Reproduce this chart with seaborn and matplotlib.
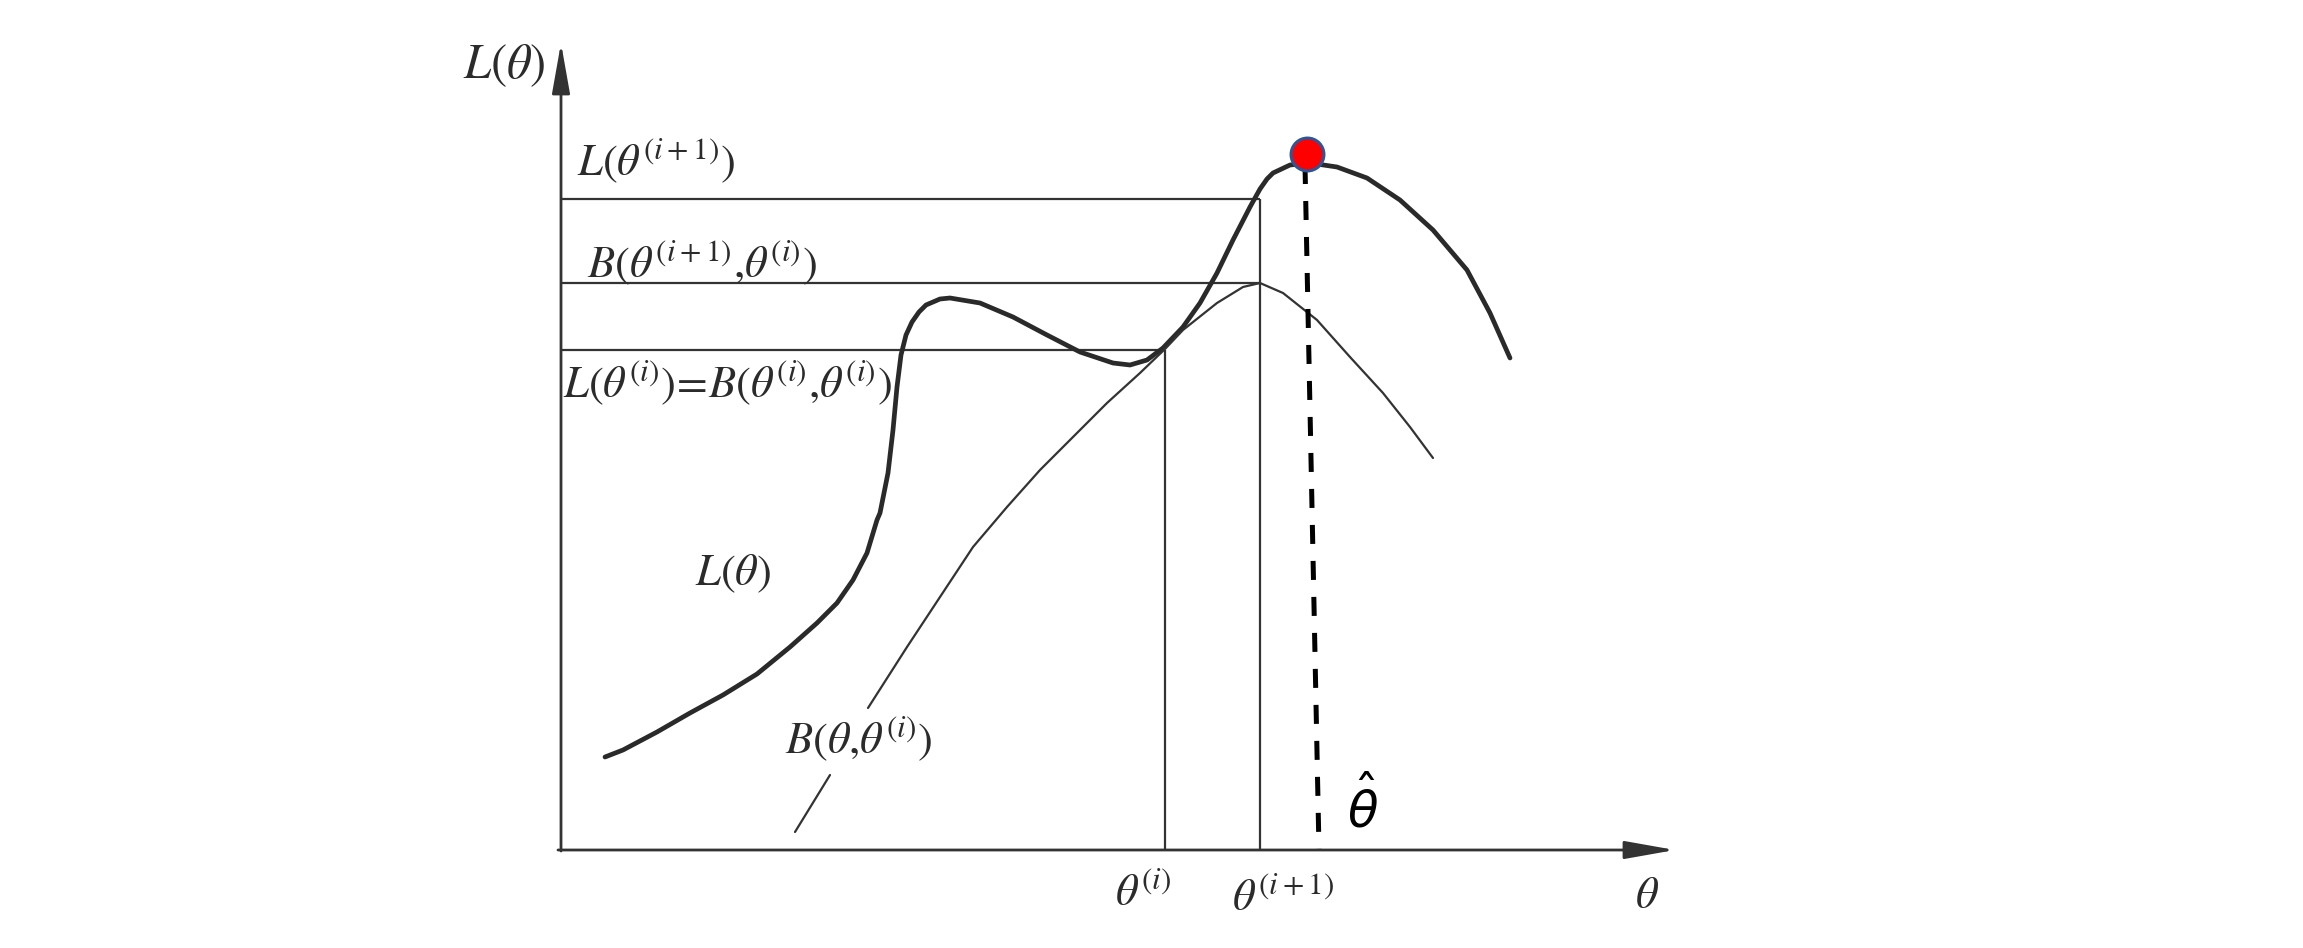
import numpy as np
import pandas as pd
import matplotlib
matplotlib.use("Agg")
import matplotlib.pyplot as plt
import seaborn as sns

# --- data (theta units, L units) ---
# L(theta): thick curve
L_theta = [0.44, 0.62, 0.96, 1.29, 1.62, 1.96, 2.29, 2.56, 2.76, 2.92, 3.06, 3.16,
           3.19, 3.27, 3.32, 3.36, 3.40, 3.45, 3.51, 3.58, 3.65, 3.79, 3.89, 4.19,
           4.52, 4.86, 5.19, 5.52, 5.69, 5.86, 6.02, 6.22, 6.39, 6.56, 6.72, 6.89,
           6.99, 7.06, 7.12, 7.29, 7.49, 7.76, 8.06, 8.39, 8.72, 9.06, 9.29, 9.49]
L_value = [0.93, 1.00, 1.18, 1.37, 1.55, 1.76, 2.03, 2.27, 2.47, 2.70, 2.97, 3.30,
           3.37, 3.77, 4.20, 4.63, 4.95, 5.15, 5.28, 5.38, 5.45, 5.51, 5.52, 5.47,
           5.33, 5.15, 4.98, 4.87, 4.85, 4.90, 5.02, 5.23, 5.47, 5.77, 6.10, 6.43,
           6.61, 6.71, 6.77, 6.85, 6.87, 6.83, 6.72, 6.50, 6.20, 5.80, 5.37, 4.92]

# B(theta, theta_i): thin lower bound, broken where its label sits
B_theta = [2.34, 2.69,
           3.07, 3.46, 3.79, 4.12, 4.46, 4.79, 5.12, 5.46, 5.79, 6.04, 6.22, 6.56,
           6.82, 6.99, 7.22, 7.56, 7.89, 8.22, 8.49, 8.72]
B_value = [0.18, 0.75,
           1.42, 2.03, 2.53, 3.03, 3.43, 3.80, 4.13, 4.47, 4.77, 5.01, 5.20, 5.47,
           5.63, 5.67, 5.57, 5.30, 4.93, 4.57, 4.23, 3.92]
B_seg = [0, 0] + [1] * (len(B_theta) - 2)

# iterates and levels
theta_i = 6.04
theta_i1 = 6.99
L_i = 5.00          # L(theta_i) = B(theta_i, theta_i)
B_i1 = 5.67         # B(theta_i+1, theta_i)
L_i1 = 6.51         # L(theta_i+1)
theta_hat = [7.44, 7.58]      # dashed marker line (slightly slanted)
theta_hat_L = [6.85, 0.00]
peak_theta, peak_L = 7.46, 6.96

df_L = pd.DataFrame({"theta": L_theta, "L": L_value})
df_B = pd.DataFrame({"theta": B_theta, "B": B_value, "seg": B_seg})

sns.set_theme(style="white")
plt.rcParams["mathtext.fontset"] = "stix"
plt.rcParams["font.family"] = ["Liberation Serif", "DejaVu Sans"]

fig = plt.figure(figsize=(23.03, 9.48), dpi=100)
ax = fig.add_axes([0, 0, 1, 1])
ax.set_xlim(-5.61, 17.42)
ax.set_ylim(-0.98, 8.50)
ax.axis("off")

ink = "#333333"

# axes with arrow heads
arrow = dict(arrowstyle="-|>,head_length=3.1,head_width=0.55", color=ink,
             lw=2.0, mutation_scale=10, shrinkA=0, shrinkB=0)
ax.annotate("", xy=(0, 8.07), xytext=(0, -0.01), arrowprops=arrow)
ax.annotate("", xy=(11.14, 0), xytext=(-0.03, 0), arrowprops=arrow)

# guide lines
ax.hlines([L_i1, B_i1], 0, theta_i1, color=ink, lw=1.6)
ax.hlines(L_i, 0, theta_i, color=ink, lw=1.6)
ax.vlines(theta_i, 0, L_i, color=ink, lw=1.6)
ax.vlines(theta_i1, 0, L_i1, color=ink, lw=1.6)

# curves
sns.lineplot(data=df_L, x="theta", y="L", sort=False, estimator=None,
             color="#2a2a2a", lw=3.4, ax=ax,
             solid_joinstyle="round", solid_capstyle="round")
sns.lineplot(data=df_B, x="theta", y="B", units="seg", sort=False, estimator=None,
             color=ink, lw=1.6, ax=ax, solid_joinstyle="round")

# dashed line to the maximum
sns.lineplot(x=theta_hat, y=theta_hat_L, sort=False, estimator=None,
             color="black", lw=3.6, linestyle=(0, (3.8, 3.4)), ax=ax)
sns.scatterplot(x=[peak_theta], y=[peak_L], s=560, color="#ff0000",
                edgecolor="#2f5597", linewidth=2.2, zorder=5, ax=ax)

# labels
txt = dict(color="#2b2b2b", fontsize=32, va="baseline", ha="left")
ax.text(-0.98, 7.72, r"$L(\theta)$", color="#2b2b2b", fontsize=35, va="baseline")
ax.text(0.16, 6.75, r"$L(\theta^{(i+1)})$", **txt)
ax.text(0.26, 5.73, r"$B(\theta^{(i+1)}{,}\theta^{(i)})$", **txt)
ax.text(0.02, 4.53, r"$L(\theta^{(i)})\!=\!B(\theta^{(i)}{,}\theta^{(i)})$", **txt)
ax.text(1.34, 2.65, r"$L(\theta)$", **txt)
ax.text(2.24, 0.97, r"$B(\theta{,}\theta^{(i)})$", **txt)
ax.text(5.54, -0.55, r"$\theta^{(i)}$", **txt)
ax.text(6.71, -0.60, r"$\theta^{(i+1)}$", **txt)
ax.text(10.74, -0.58, r"$\theta$", **txt)
ax.text(7.86, 0.22, r"$\hat{\theta}$", color="black", fontsize=36,
        va="baseline", ha="left", math_fontfamily="dejavusans")

fig.savefig("out.png", dpi=100, facecolor="white")
